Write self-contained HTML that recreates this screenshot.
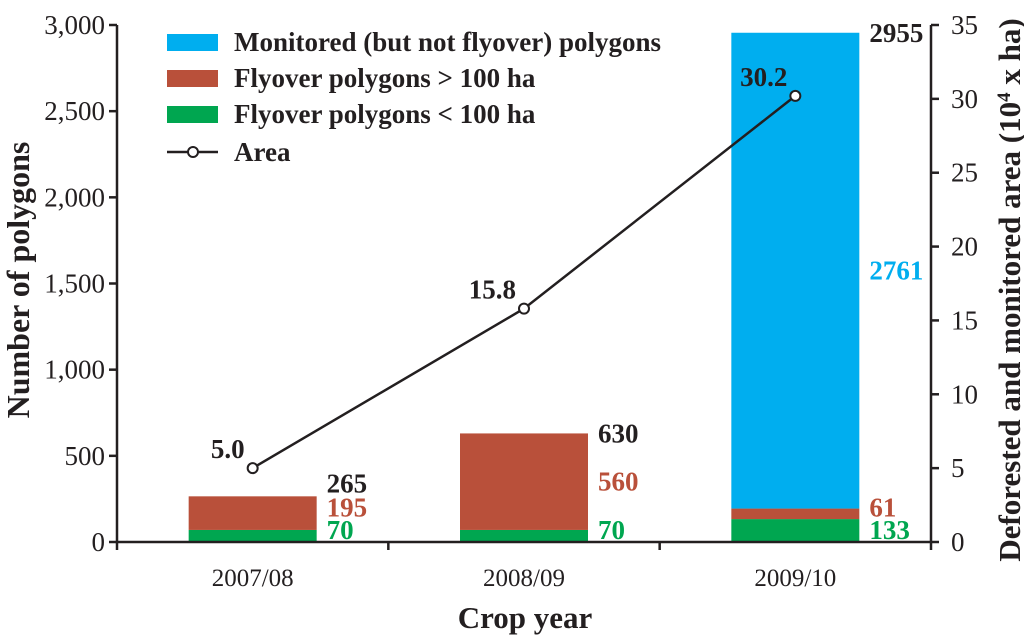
<!DOCTYPE html>
<html><head><meta charset="utf-8"><style>
body{margin:0;background:#fff}
svg{display:block;font-family:"Liberation Serif",serif}
</style></head><body>
<svg id="chart" width="1024" height="640"></svg>
<script>
const categories=["2007/08","2008/09","2009/10"];
const green=[70,70,133];
const red=[195,560,61];
const blue=[0,0,2761];
const totals=[265,630,2955];
const area=[5.0,15.8,30.2];
const leftTicks=[0,500,1000,1500,2000,2500,3000];
const leftTickLabels=["0","500","1,000","1,500","2,000","2,500","3,000"];
const rightTicks=[0,5,10,15,20,25,30,35];

const NS="http://www.w3.org/2000/svg";
const svg=document.getElementById('chart');
const X0=117,X1=931,Y0=542,Y1=25;
const yL=v=>Y0-(Y0-Y1)*v/3000;
const yR=v=>Y0-(Y0-Y1)*v/35;
const bw=(X1-X0)/categories.length;
const xc=i=>X0+bw*(i+0.5);
const BARW=128;
const LF=27;
function el(t,a,p){const e=document.createElementNS(NS,t);for(const k in a)e.setAttribute(k,a[k]);(p||svg).appendChild(e);return e;}
function txt(s,a){const e=el('text',a);e.textContent=s;return e;}

categories.forEach((c,i)=>{
  const x=xc(i)-BARW/2;
  const segs=[[0,green[i],'#00a650','bar-green-'+i],[green[i],green[i]+red[i],'#b9503a','bar-red-'+i],[green[i]+red[i],green[i]+red[i]+blue[i],'#00aeef','bar-blue-'+i]];
  segs.forEach(s=>{ if(s[1]>s[0]){
    const r=el('rect',{x:x,y:yL(s[1]),width:BARW,height:yL(s[0])-yL(s[1]),fill:s[2]});
    
    
  }});
  const lx=xc(i)+BARW/2+10;
  const tg=txt(String(green[i]),{x:lx,y:yL(0)-3,fill:'#00a650','font-size':LF,'font-weight':'bold'});
  
  
  const redY=i==2?yL(green[i]+red[i])+8:yL(green[i]+red[i]/2)+9;
  const tr=txt(String(red[i]),{x:lx,y:i==0?yL(green[i]+red[i])+20:redY,fill:'#b9503a','font-size':LF,'font-weight':'bold'});
  
  
  if(blue[i]>0){
    const tb=txt(String(blue[i]),{x:lx,y:yL(green[i]+red[i]+blue[i]/2)+9,fill:'#00aeef','font-size':LF,'font-weight':'bold'});
    
    
  }
  const tt=txt(String(totals[i]),{x:lx,y:yL(totals[i])+(i==0?-4:9),fill:'#231f20','font-size':LF,'font-weight':'bold'});
  
  
  const cl=txt(c,{x:xc(i),y:586,'text-anchor':'middle','font-size':25,fill:'#231f20'});
  
  
});

const ax=el('path',{d:`M${X0},${Y1}V${Y0}H${X1}V${Y1}`,stroke:'#231f20','stroke-width':2.5,fill:'none'});


leftTicks.forEach((v,i)=>{
  el('line',{x1:X0-8,x2:X0,y1:yL(v),y2:yL(v),stroke:'#231f20','stroke-width':2.5});
  const t=txt(leftTickLabels[i],{x:X0-12,y:yL(v)+9,'text-anchor':'end','font-size':27,fill:'#231f20'});
  
  
});
rightTicks.forEach(v=>{
  el('line',{x1:X1,x2:X1+8,y1:yR(v),y2:yR(v),stroke:'#231f20','stroke-width':2.5});
  const t=txt(String(v),{x:X1+20,y:yR(v)+9,'font-size':27,fill:'#231f20'});
  
  
});
for(let i=0;i<=categories.length;i++){el('line',{x1:X0+bw*i,x2:X0+bw*i,y1:Y0,y2:Y0+8,stroke:'#231f20','stroke-width':2.5});}

const pts=area.map((v,i)=>[xc(i),yR(v)]);
const ln=el('polyline',{points:pts.map(p=>p.join(',')).join(' '),fill:'none',stroke:'#231f20','stroke-width':2.5});


pts.forEach((p,i)=>{
  const c=el('circle',{cx:p[0],cy:p[1],r:5,fill:'#fff',stroke:'#231f20','stroke-width':2});
  
  
  const t=txt(area[i].toFixed(1),{x:p[0]-8,y:p[1]-10,'text-anchor':'end','font-size':LF,'font-weight':'bold',fill:'#231f20'});
  
  
});

const leg=[['#00aeef','Monitored (but not flyover) polygons'],['#b9503a','Flyover polygons > 100 ha'],['#00a650','Flyover polygons < 100 ha']];
leg.forEach((l,i)=>{
  const y=42+i*36;
  const r=el('rect',{x:167,y:y-8,width:51,height:17,fill:l[0]});
  
  
  const t=txt(l[1],{x:234,y:y+9,'font-size':LF,'font-weight':'bold',fill:'#231f20'});
  
  
});
el('line',{x1:167,x2:218,y1:152,y2:152,stroke:'#231f20','stroke-width':2.5});
el('circle',{cx:193,cy:152,r:5,fill:'#fff',stroke:'#231f20','stroke-width':2});
const la=txt('Area',{x:234,y:161,'font-size':LF,'font-weight':'bold',fill:'#231f20'});



const xt=txt('Crop year',{x:525,y:628,'text-anchor':'middle','font-size':31,'font-weight':'bold',fill:'#231f20'});


const yt=txt('Number of polygons',{x:0,y:0,'text-anchor':'middle','font-size':32,'font-weight':'bold',fill:'#231f20',transform:'translate(29,280) rotate(-90)'});


const yr=el('text',{x:0,y:0,'text-anchor':'middle','font-size':31,'font-weight':'bold',fill:'#231f20',transform:'translate(1020,290) rotate(-90)'});
yr.innerHTML='Deforested and monitored area (10<tspan dy="-10" font-size="19">4</tspan><tspan dy="10"> x ha)</tspan>';


</script>
</body></html>
